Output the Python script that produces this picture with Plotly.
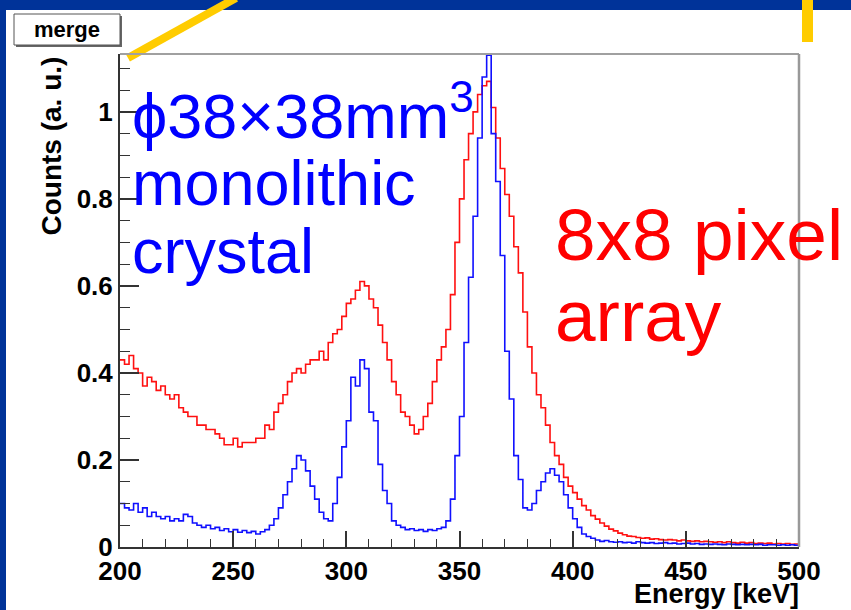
import plotly.graph_objects as go

# ---------------- data ----------------
e_min = 200
bin_width = 2  # keV

# 8x8 pixel array (red), one value per 2 keV bin from 200 to 500 keV
red = [
    0.43, 0.42, 0.44, 0.41, 0.40, 0.37, 0.39, 0.38, 0.36, 0.37,
    0.35, 0.34, 0.35, 0.32, 0.31, 0.30, 0.30, 0.28, 0.28, 0.27,
    0.27, 0.26, 0.25, 0.235, 0.235, 0.25, 0.23, 0.24, 0.24, 0.24,
    0.25, 0.25, 0.28, 0.27, 0.31, 0.33, 0.35, 0.38, 0.40, 0.41,
    0.40, 0.42, 0.43, 0.43, 0.45, 0.43, 0.47, 0.49, 0.50, 0.53,
    0.56, 0.57, 0.59, 0.61, 0.60, 0.57, 0.55, 0.51, 0.47, 0.43,
    0.38, 0.35, 0.31, 0.30, 0.28, 0.26, 0.27, 0.30, 0.33, 0.38,
    0.43, 0.46, 0.50, 0.58, 0.70, 0.80, 0.89, 0.95, 1.00, 1.04,
    1.06, 1.07, 1.01, 0.94, 0.87, 0.81, 0.76, 0.69, 0.63, 0.54,
    0.46, 0.40, 0.35, 0.32, 0.28, 0.24, 0.21, 0.19, 0.16, 0.14,
    0.125, 0.11, 0.095, 0.085, 0.072, 0.064, 0.055, 0.048, 0.041, 0.037,
    0.032, 0.028, 0.025, 0.024, 0.022, 0.020, 0.021, 0.018, 0.019, 0.017,
    0.016, 0.017, 0.016, 0.014, 0.016, 0.014, 0.013, 0.014, 0.012, 0.013,
    0.012, 0.011, 0.012, 0.010, 0.012, 0.010, 0.009, 0.011, 0.009, 0.010,
    0.008, 0.009, 0.008, 0.009, 0.007, 0.008, 0.007, 0.008, 0.006, 0.007,
]

# monolithic crystal (blue)
blue = [
    0.10, 0.09, 0.085, 0.10, 0.08, 0.09, 0.07, 0.08, 0.07, 0.065,
    0.07, 0.06, 0.065, 0.06, 0.075, 0.07, 0.055, 0.05, 0.045, 0.05,
    0.042, 0.045, 0.038, 0.042, 0.035, 0.04, 0.034, 0.038, 0.033, 0.036,
    0.03, 0.035, 0.04, 0.05, 0.065, 0.09, 0.12, 0.15, 0.18, 0.21,
    0.20, 0.175, 0.14, 0.11, 0.08, 0.065, 0.06, 0.10, 0.16, 0.23,
    0.29, 0.39, 0.37, 0.43, 0.41, 0.31, 0.29, 0.19, 0.13, 0.10,
    0.06, 0.05, 0.045, 0.04, 0.042, 0.038, 0.04, 0.036, 0.04, 0.038,
    0.042, 0.045, 0.06, 0.11, 0.21, 0.30, 0.47, 0.62, 0.76, 0.94,
    1.08, 1.13, 0.95, 0.84, 0.67, 0.45, 0.34, 0.21, 0.155, 0.09,
    0.085, 0.10, 0.13, 0.15, 0.17, 0.18, 0.165, 0.15, 0.12, 0.09,
    0.065, 0.045, 0.03, 0.024, 0.02, 0.016, 0.013, 0.015, 0.012, 0.011,
    0.012, 0.010, 0.011, 0.009, 0.012, 0.010, 0.009, 0.010, 0.008, 0.009,
    0.010, 0.008, 0.009, 0.007, 0.008, 0.009, 0.007, 0.008, 0.006, 0.007,
    0.006, 0.007, 0.006, 0.005, 0.007, 0.006, 0.005, 0.006, 0.005, 0.006,
    0.005, 0.006, 0.004, 0.005, 0.005, 0.004, 0.005, 0.004, 0.005, 0.004,
]

x_ticks = [200, 250, 300, 350, 400, 450, 500]
x_tick_text = ["200", "250", "300", "350", "400", "450", "500"]
y_ticks = [0, 0.2, 0.4, 0.6, 0.8, 1.0]
y_tick_text = ["0", "0.2", "0.4", "0.6", "0.8", "1"]

edges = [e_min + bin_width * i for i in range(len(red) + 1)]

# ---------------- geometry helpers ----------------
W, H = 851, 610
L, R, T, B = 120, 799, 54, 547


def px(x):
    return (x - L) / (R - L)


def py(y):
    return (B - y) / (B - T)


FONT = "Liberation Sans, Arial, Helvetica, sans-serif"

fig = go.Figure()
for vals, col in ((red, "#FF1010"), (blue, "#1010FF")):
    fig.add_trace(go.Scatter(
        x=edges, y=vals + [vals[-1]], mode="lines",
        line=dict(color=col, width=1.6, shape="hv"),
        hoverinfo="skip", showlegend=False,
    ))

axis_common = dict(
    showgrid=False, zeroline=False, showline=True, linecolor="#333333",
    linewidth=2, ticks="inside", tickcolor="#333333", tickwidth=1.5,
    tickfont=dict(family=FONT, size=26, color="black", weight="bold"),
)
fig.update_xaxes(
    range=[200, 500], tickvals=x_ticks, ticktext=x_tick_text, ticklen=16,
    minor=dict(dtick=10, ticks="inside", ticklen=8, tickwidth=1.2,
               tickcolor="#333333", showgrid=False),
    **axis_common,
)
fig.update_yaxes(
    range=[0, 1.133], tickvals=y_ticks, ticktext=y_tick_text, ticklen=19,
    minor=dict(dtick=0.05, ticks="inside", ticklen=10, tickwidth=1.2,
               tickcolor="#333333", showgrid=False),
    **axis_common,
)

shapes = []
# slide background bands
shapes.append(dict(type="rect", xref="paper", yref="paper", layer="above",
                   x0=px(-5), x1=px(W + 5), y0=py(10), y1=py(-5),
                   fillcolor="#003399", line=dict(width=0)))
shapes.append(dict(type="rect", xref="paper", yref="paper", layer="above",
                   x0=px(-5), x1=px(6), y0=py(H + 5), y1=py(-5),
                   fillcolor="#003399", line=dict(width=0)))
# yellow decorations
shapes.append(dict(type="line", xref="paper", yref="paper", layer="above",
                   x0=px(128), y0=py(58), x1=px(236), y1=py(-2),
                   line=dict(color="#FFCC00", width=8)))
shapes.append(dict(type="rect", xref="paper", yref="paper", layer="above",
                   x0=px(802), x1=px(813), y0=py(42), y1=py(-5),
                   fillcolor="#FFCC00", line=dict(width=0)))
# frame top & right (grey)
shapes.append(dict(type="line", xref="paper", yref="paper", layer="above",
                   x0=0, x1=1, y0=1, y1=1, line=dict(color="#A0A0A0", width=2)))
shapes.append(dict(type="line", xref="paper", yref="paper", layer="above",
                   x0=1, x1=1, y0=0, y1=1, line=dict(color="#999999", width=2.5)))
# "merge" title box with shadow
shapes.append(dict(type="rect", xref="paper", yref="paper", layer="above",
                   x0=px(16), x1=px(122), y0=py(47), y1=py(16),
                   fillcolor="#666666", line=dict(width=0)))
shapes.append(dict(type="rect", xref="paper", yref="paper", layer="above",
                   x0=px(14), x1=px(120), y0=py(45), y1=py(14),
                   fillcolor="white", line=dict(color="#555555", width=1)))

annotations = [
    dict(text="<b>merge</b>", x=px(67), y=py(29.5), xref="paper", yref="paper",
         xanchor="center", yanchor="middle", showarrow=False,
         font=dict(family=FONT, size=22, color="black")),
    dict(text="<b>Counts (a. u.)</b>", x=px(51), y=py(55), xref="paper", yref="paper",
         xanchor="center", yanchor="top", textangle=-90, showarrow=False,
         font=dict(family=FONT, size=28, color="black")),
    dict(text="<b>Energy [keV]</b>", x=px(801), y=py(611), xref="paper", yref="paper",
         xanchor="right", yanchor="bottom", showarrow=False,
         font=dict(family=FONT, size=27, color="black")),
]
blue_lines = [("ϕ38×38mm<sup>3</sup>", 153), ("monolithic", 220), ("crystal", 288)]
for txt, ybot in blue_lines:
    annotations.append(dict(text=txt, x=px(130), y=py(ybot), xref="paper", yref="paper",
                            xanchor="left", yanchor="bottom", showarrow=False,
                            font=dict(family=FONT, size=63, color="#0000FF")))
red_lines = [("8x8 pixel", 277), ("array", 358)]
for txt, ybot in red_lines:
    annotations.append(dict(text=txt, x=px(553), y=py(ybot), xref="paper", yref="paper",
                            xanchor="left", yanchor="bottom", showarrow=False,
                            font=dict(family=FONT, size=73, color="#FF0000")))

fig.update_layout(
    width=W, height=H, autosize=False,
    margin=dict(l=L, r=W - R, t=T, b=H - B, pad=0),
    paper_bgcolor="white", plot_bgcolor="white",
    showlegend=False, shapes=shapes, annotations=annotations,
)

fig.write_html("out.html", config={"displayModeBar": False})
